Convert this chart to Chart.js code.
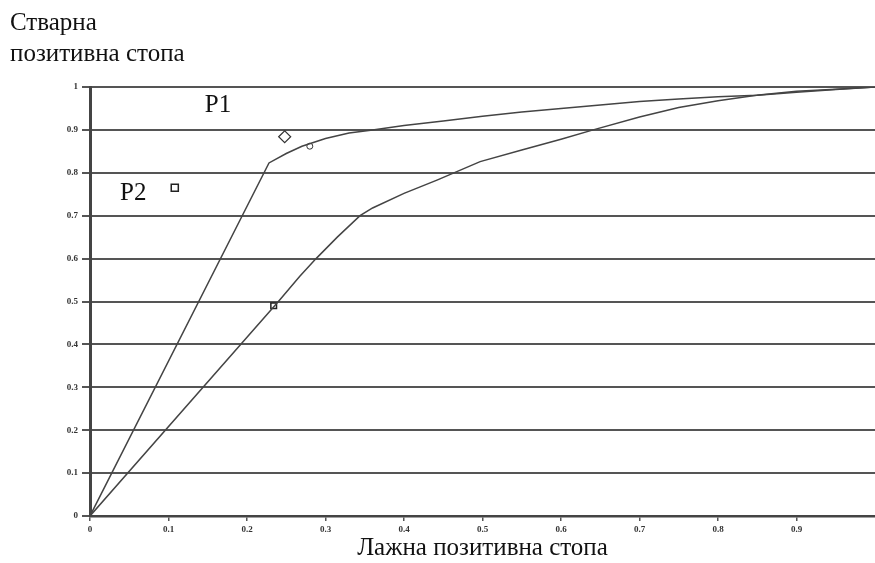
<!DOCTYPE html>
<html><head><meta charset="utf-8">
<script src="https://cdn.jsdelivr.net/npm/chart.js@4/dist/chart.umd.min.js"></script>
<style>
html,body{margin:0;padding:0;background:#fff;}
#wrap{position:relative;width:875px;height:563px;}
#ytitle{position:absolute;left:10px;top:6px;font-family:"Liberation Serif",serif;font-size:25px;line-height:31px;color:#111;}
</style></head>
<body>
<div id="wrap">
<canvas id="c" width="875" height="563"></canvas>
<div id="ytitle">Стварна<br>позитивна стопа</div>
</div>
<script>
// Curve P1 (steeper ROC)
const fprA = [0, 0.228, 0.25, 0.27, 0.30, 0.33, 0.36, 0.40, 0.45, 0.50, 0.55, 0.60, 0.65, 0.70, 0.75, 0.80, 0.85, 0.90, 0.95, 1.0];
const tprA = [0, 0.823, 0.845, 0.862, 0.880, 0.893, 0.900, 0.910, 0.921, 0.932, 0.942, 0.950, 0.958, 0.966, 0.972, 0.977, 0.981, 0.988, 0.994, 1.0];
// Curve P2
const fprB = [0, 0.24, 0.267, 0.288, 0.315, 0.344, 0.36, 0.40, 0.442, 0.497, 0.55, 0.60, 0.641, 0.70, 0.75, 0.80, 0.849, 0.90, 0.95, 1.0];
const tprB = [0, 0.50, 0.558, 0.600, 0.650, 0.700, 0.718, 0.752, 0.783, 0.826, 0.853, 0.878, 0.900, 0.930, 0.952, 0.968, 0.981, 0.990, 0.995, 1.0];
// Marked points
const diamondPt = {x: 0.248, y: 0.884};
const circlePt = {x: 0.28, y: 0.862};
const squareBig = {x: 0.108, y: 0.765};
const squareSmall = {x: 0.234, y: 0.49};
// Text labels in the plot
const labelTexts = ["P1", "P2"];
const labelX = [0.163, 0.055];
const labelY = [0.958, 0.753];
const yTicks = [0, 0.1, 0.2, 0.3, 0.4, 0.5, 0.6, 0.7, 0.8, 0.9, 1];
const xTicks = [0, 0.1, 0.2, 0.3, 0.4, 0.5, 0.6, 0.7, 0.8, 0.9];
const xTitle = "Лажна позитивна стопа";

const toPts = (xs, ys) => xs.map((x, i) => ({x, y: ys[i]}));

const labelPlugin = {
  id: 'plabels',
  afterDatasetsDraw(chart) {
    const ctx = chart.ctx, xs = chart.scales.x, ys = chart.scales.y;
    ctx.save();
    ctx.font = '25px "Liberation Serif", serif';
    ctx.fillStyle = '#111';
    ctx.textAlign = 'center';
    ctx.textBaseline = 'middle';
    labelTexts.forEach((t, i) => ctx.fillText(t, xs.getPixelForValue(labelX[i]), ys.getPixelForValue(labelY[i])));
    ctx.restore();
  }
};

const lineStyle = {borderColor: '#444', borderWidth: 1.5, pointRadius: 0, tension: 0, showLine: true, fill: false};

new Chart(document.getElementById('c'), {
  type: 'scatter',
  data: {
    datasets: [
      Object.assign({data: toPts(fprA, tprA)}, lineStyle),
      Object.assign({data: toPts(fprB, tprB)}, lineStyle),
      {data: [diamondPt], pointStyle: 'rectRot', pointRadius: 6, borderColor: '#333', borderWidth: 1.2, backgroundColor: '#fff', showLine: false},
      {data: [circlePt], pointStyle: 'circle', pointRadius: 3, borderColor: '#333', borderWidth: 1, backgroundColor: '#fff', showLine: false},
      {data: [squareBig], pointStyle: 'rect', pointRadius: 5, borderColor: '#222', borderWidth: 1.5, backgroundColor: '#fff', showLine: false},
      {data: [squareSmall], pointStyle: 'rect', pointRadius: 4, borderColor: '#222', borderWidth: 1.5, backgroundColor: '#fff', showLine: false}
    ]
  },
  options: {
    responsive: false,
    animation: false,
    events: [],
    layout: {autoPadding: false, padding: {left: 0, right: 0, top: 87, bottom: 0}},
    plugins: {legend: {display: false}, tooltip: {enabled: false}, title: {display: false}},
    scales: {
      x: {
        type: 'linear', min: 0, max: 1,
        afterBuildTicks(s) { s.ticks = xTicks.map(v => ({value: v})); },
        afterFit(s) { s.height = 47; s.paddingRight = 0; s.paddingLeft = 0; },
        grid: {drawOnChartArea: false, drawTicks: true, tickLength: 5, color: '#555', lineWidth: 1.5},
        border: {display: true, color: '#444', width: 2.5},
        ticks: {font: {family: '"Liberation Serif", serif', size: 9, weight: 'bold'}, color: '#333', padding: 3, maxRotation: 0, autoSkip: false,
          callback: v => String(v)},
        title: {display: true, text: xTitle, font: {family: '"Liberation Serif", serif', size: 25}, color: '#111', padding: {top: 0, bottom: 0}}
      },
      y: {
        type: 'linear', min: 0, max: 1,
        afterBuildTicks(s) { s.ticks = yTicks.map(v => ({value: v})); },
        afterFit(s) { s.width = 90; },
        grid: {drawOnChartArea: true, drawTicks: true, tickLength: 8, color: '#555', lineWidth: 2},
        border: {display: true, color: '#444', width: 3},
        ticks: {font: {family: '"Liberation Serif", serif', size: 9, weight: 'bold'}, color: '#333', padding: 4, autoSkip: false,
          callback: v => String(v)}
      }
    }
  },
  plugins: [labelPlugin]
});
</script>
</body></html>
